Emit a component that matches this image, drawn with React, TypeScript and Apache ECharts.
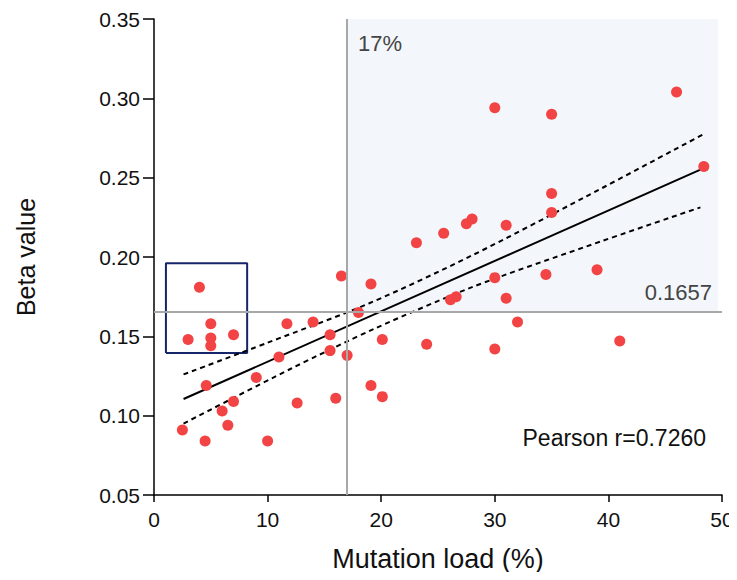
import React, { useEffect, useRef } from "react";
import * as echarts from "echarts";

// Scatter points: [mutation load %, beta value]
const pointsX = [4, 3, 5, 5, 5, 7, 4.6, 2.5, 4.5, 6, 6.5, 7, 9, 10, 11, 11.7, 12.6, 14, 15.5, 15.5, 16, 16.5, 17, 18, 19.1, 19.1, 20.1, 20.1, 24, 30, 32, 41, 26.1, 26.6, 30, 31, 34.5, 39, 23.1, 25.5, 27.5, 28, 31, 35, 35, 48.4, 30, 35, 46];
const pointsY = [0.181, 0.148, 0.158, 0.149, 0.144, 0.151, 0.119, 0.091, 0.084, 0.103, 0.094, 0.109, 0.124, 0.084, 0.137, 0.158, 0.108, 0.159, 0.151, 0.141, 0.111, 0.188, 0.138, 0.165, 0.183, 0.119, 0.148, 0.112, 0.145, 0.142, 0.159, 0.147, 0.173, 0.175, 0.187, 0.174, 0.189, 0.192, 0.209, 0.215, 0.221, 0.224, 0.220, 0.228, 0.240, 0.257, 0.294, 0.290, 0.304];

// Regression line and 95% confidence band
const fitLine = [[2.6, 0.1105], [48.4, 0.256]];
const upperBand = [[2.6, 0.126], [10, 0.146], [19, 0.171], [28, 0.201], [38, 0.238], [48.4, 0.2775]];
const lowerBand = [[2.6, 0.095], [12, 0.1294], [19.5, 0.1551], [28, 0.181], [38, 0.2065], [48.1, 0.2313]];

// Thresholds and highlight box
const xThreshold = 17;
const yThreshold = 0.1657;
const boxX = [1.05, 8.2];
const boxY = [0.1395, 0.196];
const shadeX = [17, 49.65];
const shadeY = [0.1657, 0.353];

const FONT = "Liberation Sans, Arial, sans-serif";

export default function App() {
  const ref = useRef<HTMLDivElement>(null);
  useEffect(() => {
    if (!ref.current) return;
    const chart = echarts.init(ref.current, null, { renderer: "svg" });
    const scatterData = pointsX.map((x, i) => [x, pointsY[i]]);
    const boxPath = [
      [boxX[0], boxY[0]],
      [boxX[1], boxY[0]],
      [boxX[1], boxY[1]],
      [boxX[0], boxY[1]],
      [boxX[0], boxY[0]],
    ];
    chart.setOption({
      animation: false,
      backgroundColor: "#ffffff",
      textStyle: { fontFamily: FONT },
      grid: {
        left: 154,
        right: 15,
        top: 19,
        bottom: 85,
        containLabel: false,
        outerBoundsMode: "none",
      },
      xAxis: {
        type: "value",
        min: 0,
        max: 50,
        interval: 10,
        name: "Mutation load (%)",
        nameLocation: "middle",
        nameGap: 50,
        nameTextStyle: { fontSize: 27, color: "#111", fontFamily: FONT },
        axisLine: { onZero: false, lineStyle: { color: "#000", width: 1.5 } },
        axisTick: { show: true, length: 7, lineStyle: { color: "#000", width: 1.5 } },
        axisLabel: { fontSize: 21, color: "#111", margin: 14, fontFamily: FONT },
        splitLine: { show: false },
      },
      yAxis: {
        type: "value",
        min: 0.05,
        max: 0.35,
        interval: 0.05,
        name: "Beta value",
        nameLocation: "middle",
        nameGap: 116,
        nameRotate: 90,
        nameTextStyle: { fontSize: 25, color: "#111", fontFamily: FONT },
        axisLine: { onZero: false, lineStyle: { color: "#000", width: 1.5 } },
        axisTick: { show: true, length: 11, lineStyle: { color: "#000", width: 1.5 } },
        axisLabel: {
          fontSize: 21,
          color: "#111",
          margin: 14,
          fontFamily: FONT,
          formatter: (v: number) => v.toFixed(2),
        },
        splitLine: { show: false },
      },
      series: [
        {
          type: "line",
          name: "thresholds",
          data: [],
          z: 1,
          markLine: {
            silent: true,
            symbol: "none",
            precision: 4,
            label: { show: false },
            lineStyle: { color: "#a8a8a8", width: 2, type: "solid" },
            data: [{ xAxis: xThreshold }, { yAxis: yThreshold }],
          },
        },
        {
          type: "line",
          name: "box",
          data: boxPath,
          z: 2,
          symbol: "none",
          lineStyle: { color: "#16256a", width: 2 },
        },
        {
          type: "line",
          name: "fit",
          data: fitLine,
          z: 2,
          symbol: "none",
          lineStyle: { color: "#000", width: 2 },
        },
        {
          type: "line",
          name: "upper",
          data: upperBand,
          z: 2,
          symbol: "none",
          smooth: 0.3,
          lineStyle: { color: "#000", width: 2, type: [5, 4] },
        },
        {
          type: "line",
          name: "lower",
          data: lowerBand,
          z: 2,
          symbol: "none",
          smooth: 0.3,
          lineStyle: { color: "#000", width: 2, type: [5, 4] },
        },
        {
          type: "scatter",
          name: "samples",
          data: scatterData,
          z: 3,
          symbolSize: 11,
          itemStyle: { color: "#f24444", opacity: 1 },
        },
        {
          type: "line",
          name: "shade",
          data: [],
          z: 4,
          markArea: {
            silent: true,
            itemStyle: { color: "rgba(205,218,234,0.24)" },
            data: [[{ coord: [shadeX[0], shadeY[0]] }, { coord: [shadeX[1], shadeY[1]] }]],
          },
        },
      ],
      graphic: [
        {
          type: "text",
          left: 358,
          top: 32,
          z: 10,
          style: { text: "17%", fontSize: 22, fill: "#444", fontFamily: FONT },
        },
        {
          type: "text",
          right: 25,
          top: 281,
          z: 10,
          style: { text: "0.1657", fontSize: 22, fill: "#444", fontFamily: FONT },
        },
        {
          type: "text",
          right: 31,
          top: 426,
          z: 10,
          style: { text: "Pearson r=0.7260", fontSize: 23, fill: "#111", fontFamily: FONT },
        },
      ],
    });
    return () => chart.dispose();
  }, []);
  return <div ref={ref} style={{ width: 737, height: 580, margin: -8 }} />;
}
